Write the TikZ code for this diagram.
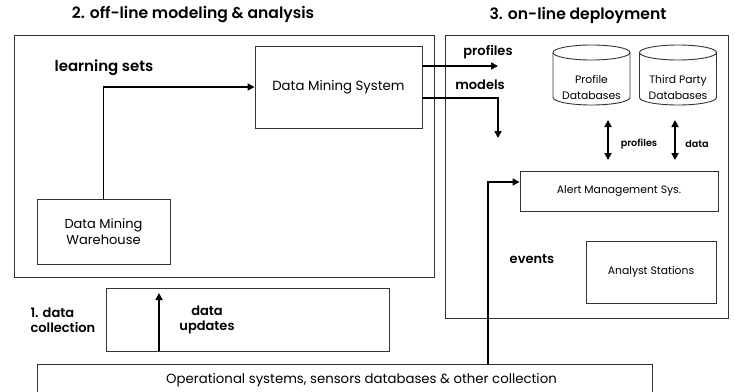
\documentclass[tikz,border=0pt]{standalone}
\usepackage{fontspec}
\setmainfont{Poppins}[BoldFont={Poppins SemiBold}]
\usetikzlibrary{arrows.meta}

\tikzset{
	kasten/.style={draw=black!80, line width=0.9pt, inner sep=0pt, align=center},
	dbrand/.style={draw=black!80, line width=0.9pt},
	dbtext/.style={font=\fontsize{10.8}{16}\selectfont, align=center},
	pfeil/.style={line width=1.6pt, -{Triangle[length=7pt,width=7pt]}},
	doppelpfeil/.style={line width=1.6pt,
		{Triangle[length=7pt,width=7pt]}-{Triangle[length=7pt,width=7pt]}},
	titel/.style={font=\fontsize{15.6}{18}\selectfont\bfseries},
	marke/.style={font=\fontsize{13}{15}\selectfont\bfseries, align=center}
}

\begin{document}
\begin{tikzpicture}[x=1pt, y=-1pt]
	\useasboundingbox (0,0) rectangle (735,391);
	\clip (0,0) rectangle (735,391);

	% Ueberschriften
	\node[titel] (titelOff) at (193,15) {2. off-line modeling \& analysis};
	\node[titel] (titelOn) at (578,15) {3. on-line deployment};

	% grosse Rahmen
	\node[kasten, minimum width=420, minimum height=242] (offline) at (224,156) {};
	\node[kasten, minimum width=283, minimum height=283] (online) at (586.5,176.5) {};

	% off-line
	\node[kasten, minimum width=167, minimum height=82,
		font=\fontsize{13.3}{16}\selectfont] (dms) at (338.5,87) {Data Mining System};
	\node[kasten, minimum width=133, minimum height=65,
		font=\fontsize{13}{15.5}\selectfont] (dmw) at (103.5,231.5) {Data Mining\\Warehouse};
	\node[marke, font=\fontsize{15}{17}\selectfont\bfseries] (lernen) at (104,68) {learning sets};
	\draw[pfeil] (dmw.north) |- (dms.west);

	% Datenbanken (Zylinder)
	\foreach \cx in {591.5,678}{
		\draw[dbrand] (\cx,52.5) ellipse [x radius=38.5, y radius=7.5];
		\draw[dbrand] (\cx-38.5,52.5) -- (\cx-38.5,97.5)
			arc [start angle=180, end angle=0, x radius=38.5, y radius=7.5]
			-- (\cx+38.5,52.5);
	}
	\node[dbtext] (profilText) at (591.5,87) {Profile\\Databases};
	\node[dbtext] (drittText) at (678,87) {Third Party\\Databases};

	% on-line
	\node[kasten, minimum width=198, minimum height=40,
		font=\fontsize{10.8}{13}\selectfont] (ams) at (619,191) {Alert Management Sys.};
	\node[kasten, minimum width=130, minimum height=62,
		font=\fontsize{10.8}{13}\selectfont] (analyst) at (651,272) {Analyst Stations};
	\node[marke] (events) at (532,259) {events};

	% profiles / models
	\coordinate (profEnde) at (498,66);
	\coordinate (modEnde) at (498,138);
	\draw[pfeil] ([yshift=21pt]dms.east) -- (profEnde);
	\draw[pfeil] ([yshift=-11pt]dms.east) -| (modEnde);
	\node[marke] (profile) at (488,52) {profiles};
	\node[marke] (modelle) at (480,85) {models};

	% Datenbanken <-> Alert Management
	\coordinate (profOben) at (608,120);
	\coordinate (profUnten) at (608,160);
	\coordinate (datOben) at (675,120);
	\coordinate (datUnten) at (675,160);
	\draw[doppelpfeil] (profOben) -- (profUnten);
	\draw[doppelpfeil] (datOben) -- (datUnten);
	\node[marke, font=\fontsize{9.6}{12}\selectfont\bfseries] (profile2) at (639,144) {profiles};
	\node[marke, font=\fontsize{9.6}{12}\selectfont\bfseries] (daten) at (697,144) {data};

	% Datensammlung
	\node[kasten, minimum width=283, minimum height=63] (updates) at (247.5,319.5) {};
	\node[marke] (updText) at (207,320) {data\\updates};
	\node[marke, align=left, anchor=west] (sammeln) at (27,320) {1. data\\collection};
	\coordinate (updSpitze) at (159,293);
	\draw[pfeil] (updates.south -| updSpitze) -- (updSpitze);

	% operative Systeme
	\node[kasten, minimum width=615, minimum height=56] (ops) at (344.5,392) {};
	\node[anchor=north, font=\fontsize{13.3}{16}\selectfont] (opsText) at ([xshift=17pt, yshift=-6pt]ops.north)
		{Operational systems, sensors databases \& other collection};
	\coordinate (evKnick) at (488,182);
	\draw[pfeil] (ops.north -| evKnick) |- ([yshift=9pt]ams.west);
\end{tikzpicture}
\end{document}
